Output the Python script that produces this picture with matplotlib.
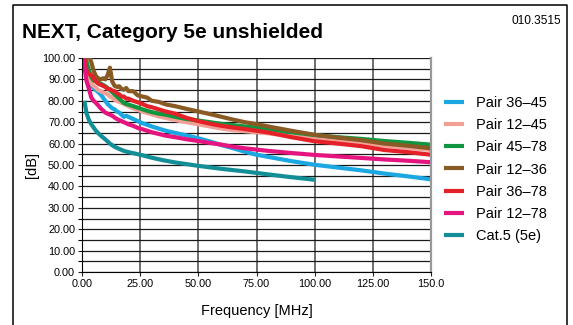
import matplotlib
matplotlib.use("Agg")
import matplotlib.pyplot as plt
from matplotlib.lines import Line2D
from matplotlib.ticker import MultipleLocator

plt.rcParams['font.family'] = ['Liberation Sans', 'DejaVu Sans']

# gemessene Frequenzpunkte (MHz) fuer alle Paare
freq = [0.5, 1, 2, 3, 4, 5, 6, 7, 8, 9, 10, 11, 12, 13, 14, 15, 16, 17, 18, 19, 20,
        22, 24, 26, 28, 30, 33, 36, 40, 45, 50, 55, 60, 65, 70, 75, 80,
        90, 100, 110, 120, 130, 140, 150]

pair_36_45 = [104, 100, 93, 89, 87, 86, 85, 84, 83, 81.5, 80, 78.5, 77.5, 76.5, 76, 75, 74.5, 73.5, 72.5, 73, 72.5,
              71.5, 70.5, 69.5, 68.8, 68, 67, 66, 65, 63.8, 62.5, 61, 59.3, 57.8, 56.2, 54.8, 53.8,
              51.8, 50.1, 48.8, 47.5, 46, 44.7, 43.3]
pair_12_45 = [104, 100, 94, 90.5, 88, 87, 86, 85, 84.5, 84, 83.5, 83, 82, 81.5, 80.5, 80, 79.5, 79, 78.5, 78, 77.5,
              76.5, 75.7, 75, 74.3, 73.7, 72.7, 72, 71, 70, 69, 68, 67, 66.3, 65.8, 65.3, 64.8,
              63.5, 62.3, 61.3, 60.2, 59, 58, 57]
pair_45_78 = [106, 104, 98, 94, 91, 89.5, 89, 88.5, 88, 87.5, 86.8, 86, 85, 84, 83, 82, 81, 80, 79, 78.5, 78.2,
              77.5, 76.8, 76, 75.3, 74.7, 74, 73.5, 72.5, 71.5, 70.8, 70, 69.2, 68.6, 68, 67.5, 66.8,
              65.3, 64, 63, 62.2, 61.2, 60.4, 59.5]
pair_12_36 = [108, 106, 104, 101, 98, 94, 91.5, 90.5, 90, 90.5, 90, 92, 95.5, 89, 87, 86.5, 86.8, 85.5, 85.2, 86, 84.5,
              84.5, 82.5, 82, 81.5, 80, 79.5, 78.3, 77.5, 76.2, 75, 73.8, 72.5, 71.2, 70, 69.1, 68,
              66, 64.1, 62.8, 61.6, 60, 59, 57.8]
pair_36_78 = [104, 100, 94, 92.5, 92, 90.5, 89, 88, 87.5, 87, 86.5, 85.5, 85.5, 84.8, 84.5, 83.5, 83, 82, 82, 81, 81,
              80, 79.3, 78.5, 77.5, 77, 76, 75, 74, 72, 70.5, 69.3, 68.3, 67.5, 66.8, 66, 65.2,
              63, 61.1, 60, 58.8, 57, 56, 54.8]
pair_12_78 = [100, 96, 89, 85.5, 81.5, 80, 79, 77.8, 76.5, 75.5, 74.5, 74, 73.5, 73, 72.2, 71.5, 71, 70.5, 70, 69.5, 69,
              68.3, 67.3, 66.7, 66, 65.3, 64.5, 63.7, 63, 62, 61.2, 60.3, 59.5, 58.5, 57.8, 57.2, 56.6,
              55.6, 54.7, 54, 53.3, 52.6, 52, 51.3]

# Grenzwert Cat.5 (5e), nur bis 100 MHz
cat5_freq = [1, 2, 3, 4, 5, 6, 7, 8, 10, 12, 14, 16, 18, 20, 25, 30, 35, 40, 50, 60, 70, 80, 90, 100]
cat5 = [80, 74, 71, 69, 67.5, 66, 64.8, 63.8, 62, 60, 58.5, 57.5, 56.6, 56, 54.8, 53.4, 52.2, 51.2,
        49.6, 48.2, 47, 45.6, 44.3, 43.1]

series = {
    "Pair 36\u201345": (freq, pair_36_45, "#1ba7e1"),
    "Pair 12\u201345": (freq, pair_12_45, "#f2a096"),
    "Pair 45\u201378": (freq, pair_45_78, "#109640"),
    "Pair 12\u201336": (freq, pair_12_36, "#8a5a24"),
    "Pair 36\u201378": (freq, pair_36_78, "#e42128"),
    "Pair 12\u201378": (freq, pair_12_78, "#e5147f"),
    "Cat.5 (5e)": (cat5_freq, cat5, "#128e97"),
}

fig = plt.figure(figsize=(5.73, 3.25), dpi=100)
ax = fig.add_axes([82 / 573, 53 / 325, 349 / 573, 214 / 325])

for label, (x, y, c) in series.items():
    ax.plot(x, y, color=c, lw=3.0, label=label, solid_capstyle='butt')

ax.set_xlim(0, 150)
ax.set_ylim(0, 100)
ax.yaxis.set_major_locator(MultipleLocator(10))
ax.yaxis.set_minor_locator(MultipleLocator(5))
ax.set_xticks([0, 25, 50, 75, 100, 125, 150])
ax.set_xticklabels(["0.00", "25.00", "50.00", "75.00", "100.00", "125.00", "150.0"])
ax.set_yticklabels([f"{v:.2f}" for v in ax.get_yticks()])
ax.tick_params(labelsize=7.8, length=3, width=0.8, color='#222222', pad=2)
ax.tick_params(which='minor', length=3, width=0.8)

ax.grid(True, axis='y', which='both', color='#1a1a1a', lw=0.9)
ax.grid(True, axis='x', color='#555555', lw=1.2)
ax.set_axisbelow(True)
ax.spines['top'].set_visible(False)
ax.spines['right'].set_color('#999999')
ax.spines['right'].set_linewidth(1.6)
ax.spines['left'].set_linewidth(0.8)
ax.spines['bottom'].set_linewidth(0.8)

ax.set_xlabel("Frequency [MHz]", fontsize=10.5, labelpad=11)
ax.set_ylabel("[dB]", fontsize=10.5, labelpad=2)

ax.legend(loc='upper left', bbox_to_anchor=(444 / 573, 1 - 96 / 325), bbox_transform=fig.transFigure,
          frameon=False, fontsize=10.5, handlelength=1.35, handletextpad=0.85, labelspacing=0.56,
          borderpad=0, borderaxespad=0)

fig.text(22 / 573, 1 - 38 / 325, "NEXT, Category 5e unshielded", fontsize=15, fontweight='bold',
         va='baseline')
fig.text(561 / 573, 1 - 24 / 325, "010.3515", fontsize=8.6, ha='right', va='baseline')

# Rahmen
fig.add_artist(Line2D([13 / 573, 13 / 573, 567 / 573, 567 / 573], [0, 1 - 5 / 325, 1 - 5 / 325, 0],
                      transform=fig.transFigure, color='black', lw=1.1))

fig.savefig("out.png", dpi=100)
